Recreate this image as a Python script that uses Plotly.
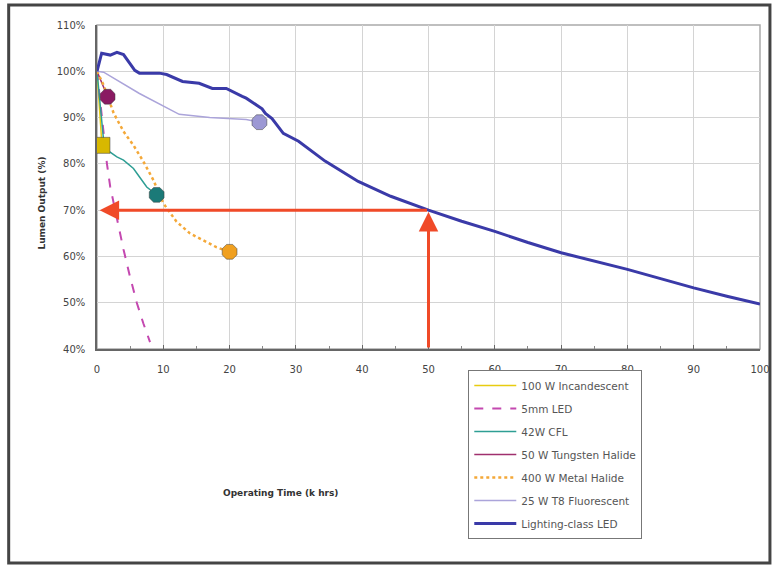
import plotly.graph_objects as go

# Lumen maintenance of different light sources vs operating time

incandescent_x = [0, 0.75]
incandescent_y = [100, 84]

led5mm_x = [0, 0.5, 1, 1.5, 2, 3, 4, 5, 6, 7, 8]
led5mm_y = [100, 93, 86, 80, 75, 68, 61.5, 55.5, 50, 45.5, 41.5]

cfl_x = [0, 0.5, 1, 1.5, 3, 4, 5.5, 6.5, 7.5, 9]
cfl_y = [100, 92, 85, 83, 81.5, 80.8, 79, 77, 75, 73.3]

tungsten_x = [0, 1.6]
tungsten_y = [100, 94.5]

metal_halide_x = [0, 1, 2.5, 4, 5.5, 7, 8.5, 10, 12, 14, 16, 18, 20]
metal_halide_y = [100, 97, 91, 87, 84, 80.5, 76.5, 71.5, 67.5, 65, 63.5, 62, 61]

t8_x = [0, 1, 6.4, 12.4, 17, 22.5, 24.5]
t8_y = [100, 99.8, 95.2, 90.7, 90, 89.6, 89]

lighting_led_x = [0, 0.7, 2, 3, 4, 5.7, 6.4, 9.4, 10.5, 12.9, 15.4, 17.4, 18.9, 19.5,
                  21.9, 22.5, 24.9, 25.4, 26.4, 28.1, 30.4, 34.4, 39.4, 44.3, 50,
                  55, 60, 65, 70, 75, 80, 85, 90, 95, 100]
lighting_led_y = [100, 103.9, 103.5, 104.1, 103.6, 100.2, 99.6, 99.6, 99.3, 97.8, 97.4,
                  96.3, 96.3, 96.3, 94.6, 94.2, 91.9, 90.9, 89.8, 86.6, 84.9, 80.6, 76.2,
                  73, 70, 67.6, 65.4, 63, 60.8, 59, 57.2, 55.2, 53.2, 51.4, 49.7]

target_hours = 50
target_pct = 70

x_ticks = [0, 10, 20, 30, 40, 50, 60, 70, 80, 90, 100]
y_ticks = [40, 50, 60, 70, 80, 90, 100, 110]

series = [
    ("100 W Incandescent", incandescent_x, incandescent_y, "#E8CC10", 1.5, "solid", "square", "#D8B800"),
    ("5mm LED", led5mm_x, led5mm_y, "#C448B0", 2, "dash", None, None),
    ("42W CFL", cfl_x, cfl_y, "#2E9E94", 1.5, "solid", "octagon", "#1B7A78"),
    ("50 W Tungsten Halide", tungsten_x, tungsten_y, "#A0306E", 1.5, "solid", "octagon", "#8A1A62"),
    ("400 W Metal Halide", metal_halide_x, metal_halide_y, "#F4A838", 2.5, "dot", "octagon", "#F0A020"),
    ("25 W T8 Fluorescent", t8_x, t8_y, "#ABA4DA", 1.5, "solid", "octagon", "#9C98D4"),
    ("Lighting-class LED", lighting_led_x, lighting_led_y, "#3A3AA8", 3, "solid", None, None),
]

fig = go.Figure()

for i, (name, xs, ys, color, width, dash, symbol, mcolor) in enumerate(series):
    fig.add_trace(go.Scatter(
        x=xs, y=ys, mode="lines", name=name, legendgroup=str(i),
        line=dict(color=color, width=width, dash=dash),
    ))

# end point markers
for i, (name, xs, ys, color, width, dash, symbol, mcolor) in enumerate(series):
    if symbol is None:
        continue
    fig.add_trace(go.Scatter(
        x=[xs[-1]], y=[ys[-1]], mode="markers", showlegend=False,
        marker=dict(symbol=symbol, size=16, color=mcolor,
                    line=dict(color="rgba(60,60,60,0.5)", width=1)),
    ))

# red arrows marking 70% at 50k hours
arrow_color = "#F04A28"
fig.add_annotation(x=0.4, y=target_pct, ax=target_hours, ay=target_pct,
                   xref="x", yref="y", axref="x", ayref="y", text="",
                   showarrow=True, arrowhead=2, arrowsize=1.3, arrowwidth=3,
                   arrowcolor=arrow_color)
fig.add_annotation(x=target_hours, y=target_pct - 0.4, ax=target_hours, ay=40,
                   xref="x", yref="y", axref="x", ayref="y", text="",
                   showarrow=True, arrowhead=2, arrowsize=1.3, arrowwidth=3,
                   arrowcolor=arrow_color)

fig.add_annotation(x=-0.093, y=0.45, xref="paper", yref="paper", text="<b>Lumen Output (%)</b>",
                   textangle=-90, showarrow=False, font=dict(size=9, color="#333"))
fig.add_annotation(x=0.187, y=-0.466, xref="paper", yref="paper", text="<b>Operating Time (k hrs)</b>",
                   showarrow=False, font=dict(size=9, color="#333"))

# outer frame
fig.add_shape(type="rect", xref="paper", yref="paper",
              x0=-0.1332, x1=1.015, y0=-0.6605, y1=1.0617,
              line=dict(color="#444", width=3))

fig.update_layout(
    width=782, height=567,
    margin=dict(l=97, r=17, t=25, b=218),
    plot_bgcolor="white", paper_bgcolor="white",
    font=dict(family="DejaVu Sans, Verdana, sans-serif", size=10, color="#444"),
    showlegend=True,
    legend=dict(x=0.56, y=-0.065, xanchor="left", yanchor="top",
                bgcolor="white", bordercolor="#777", borderwidth=1,
                font=dict(size=10.5, color="#555"), tracegroupgap=4,
                itemwidth=42),
)
fig.update_xaxes(range=[0, 100], tickvals=x_ticks, showgrid=True, gridcolor="#D4D4D4",
                 showline=True, linecolor="#666", linewidth=1.5, mirror=False,
                 ticks="inside", ticklen=4, tickcolor="#666",
                 minor=dict(dtick=5, ticks="inside", ticklen=3, tickcolor="#888", showgrid=False),
                 zeroline=False, ticklabelstandoff=10)
fig.update_yaxes(range=[40, 110], tickvals=y_ticks, ticktext=[f"{v}%" for v in y_ticks],
                 showgrid=True, gridcolor="#D4D4D4",
                 showline=True, linecolor="#666", linewidth=1.5,
                 ticks="", zeroline=False, ticklabelstandoff=8)
# plot area top/right border
fig.add_shape(type="rect", xref="paper", yref="paper", x0=0, x1=1, y0=0, y1=1,
              line=dict(color="#AAA", width=1.5), layer="below")

fig.write_html("out.html", config={"displayModeBar": False},
               post_script="document.body.style.margin='0';")
